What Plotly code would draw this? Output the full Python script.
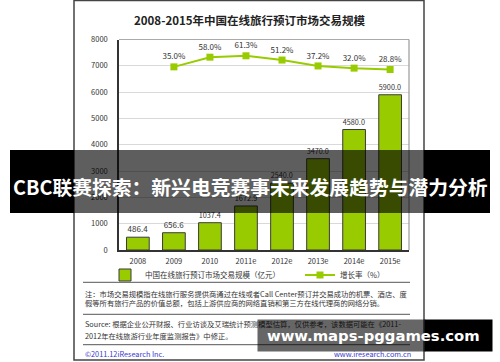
import plotly.graph_objects as go

W, H = 500, 362

years = ["2008", "2009", "2010", "2011e", "2012e", "2013e", "2014e", "2015e"]
market_size = [486.4, 656.6, 1037.4, 1672.9, 2540.0, 3470.0, 4580.0, 5900.0]
growth_rate = [None, 35.0, 58.0, 61.3, 51.2, 37.2, 32.0, 28.8]
y_tick_values = [0, 1000, 2000, 3000, 4000, 5000, 6000, 7000, 8000]

title_text = "2008-2015年中国在线旅行预订市场交易规模"
bar_name = "中国在线旅行预订市场交易规模（亿元）"
line_name = "增长率（%）"
note_lines = [
    "注：市场交易规模指在线旅行服务提供商通过在线或者Call Center预订并交易成功的机票、酒店、度",
    "假等所有旅行产品的价值总额，包括上游供应商的网络直销和第三方在线代理商的网络分销。",
]
source_lines = [
    "Source: 根据企业公开财报、行业访谈及艾瑞统计预测模型估算，仅供参考，该数据可能在《2011-",
    "2012年在线旅游行业年度监测报告》中修正。",
]
footer_left = "©2011.12iResearch Inc."
footer_right = "www.iresearch.com.cn"
banner_text = "CBC联赛探索：新兴电竞赛事未来发展趋势与潜力分析"
watermark_text = "www.maps-pggames.com"

FONT = "Noto Sans CJK SC"
GREEN = "#99cc00"


def px(x):
    return x / W


def py(y):
    return 1 - y / H


fig = go.Figure()
fig.add_bar(
    x=years, y=market_size, name=bar_name,
    marker=dict(color=GREEN, line=dict(color="#3a3a3a", width=1)),
    texttemplate="%{y:.1f}", textposition="outside",
    textfont=dict(size=8, color="#333333", family=FONT),
    cliponaxis=False, width=0.63,
)
fig.add_scatter(
    x=years, y=growth_rate, yaxis="y2", name=line_name,
    mode="lines+markers+text",
    line=dict(color=GREEN, width=2),
    marker=dict(symbol="square", size=7, color=GREEN),
    text=[("%.1f%%" % v) if v is not None else "" for v in growth_rate],
    textposition="top center",
    textfont=dict(size=8, color="#333333", family=FONT),
    cliponaxis=False,
)

shapes = []
# outer frame
shapes.append(dict(type="rect", xref="paper", yref="paper", x0=px(74), x1=px(424), y0=py(360), y1=py(0.5),
                   line=dict(color="#444444", width=1.5), fillcolor="rgba(0,0,0,0)", layer="below"))
# plot border (top & right)
shapes.append(dict(type="line", xref="paper", yref="paper", x0=px(119), x1=px(409), y0=py(39.5), y1=py(39.5),
                   line=dict(color="#aaaaaa", width=1)))
shapes.append(dict(type="line", xref="paper", yref="paper", x0=px(409), x1=px(409), y0=py(39.5), y1=py(250),
                   line=dict(color="#999999", width=1.2)))
# separators
for yy in [282.3, 314.3, 344.7]:
    shapes.append(dict(type="line", xref="paper", yref="paper", x0=px(83), x1=px(410), y0=py(yy), y1=py(yy),
                       line=dict(color="#555555", width=1)))
# banner
shapes.append(dict(type="rect", xref="paper", yref="paper", x0=px(10), x1=px(74), y0=py(213), y1=py(150),
                   fillcolor="black", line=dict(width=0), layer="above"))
shapes.append(dict(type="rect", xref="paper", yref="paper", x0=px(424), x1=px(490), y0=py(213), y1=py(150),
                   fillcolor="black", line=dict(width=0), layer="above"))
shapes.append(dict(type="rect", xref="paper", yref="paper", x0=px(74), x1=px(424), y0=py(213), y1=py(150),
                   fillcolor="rgba(0,0,0,0.63)", line=dict(width=0), layer="above"))

annotations = []
annotations.append(dict(text=title_text, x=px(250), y=py(20), xref="paper", yref="paper", showarrow=False,
                        xanchor="center", yanchor="middle",
                        font=dict(family=FONT, size=11.5, color="#222222", weight="bold")))
for i, t in enumerate(note_lines):
    annotations.append(dict(text=t, x=px(83), y=py(293.5 + i * 9.5), xref="paper", yref="paper", showarrow=False,
                            xanchor="left", yanchor="middle", font=dict(family=FONT, size=7.3, color="#333333")))
for i, t in enumerate(source_lines):
    annotations.append(dict(text=t, x=px(83), y=py(324 + i * 11.5), xref="paper", yref="paper", showarrow=False,
                            xanchor="left", yanchor="middle", font=dict(family=FONT, size=7.3, color="#333333")))
annotations.append(dict(text=footer_left, x=px(83), y=py(353.5), xref="paper", yref="paper", showarrow=False,
                        xanchor="left", yanchor="middle", font=dict(family=FONT, size=7.3, color="#3a3ad0")))
annotations.append(dict(text=footer_right, x=px(413), y=py(353.5), xref="paper", yref="paper", showarrow=False,
                        xanchor="right", yanchor="middle", font=dict(family=FONT, size=7.3, color="#3a3ad0")))
# watermark boxes (as annotations so they cover the source text)
annotations.append(dict(text=" ", x=px(257), y=py(319), xref="paper", yref="paper", showarrow=False,
                        xanchor="left", yanchor="top", width=167, height=31, borderpad=0,
                        bgcolor="rgba(0,0,0,0.6)", font=dict(size=1)))
annotations.append(dict(text=" ", x=px(424), y=py(319), xref="paper", yref="paper", showarrow=False,
                        xanchor="left", yanchor="top", width=67, height=31, borderpad=0,
                        bgcolor="black", font=dict(size=1)))
annotations.append(dict(text=watermark_text, x=px(373), y=py(335), xref="paper", yref="paper", showarrow=False,
                        xanchor="center", yanchor="middle",
                        font=dict(family="DejaVu Sans", size=14.8, color="white", weight="bold")))
annotations.append(dict(text=banner_text, x=px(250), y=py(186), xref="paper", yref="paper", showarrow=False,
                        xanchor="center", yanchor="middle",
                        font=dict(family=FONT, size=19.8, color="white", weight="bold")))

fig.update_layout(
    width=W, height=H, margin=dict(l=0, r=0, t=0, b=0, autoexpand=False),
    paper_bgcolor="white", plot_bgcolor="white",
    font=dict(family=FONT, size=8, color="#333333"),
    xaxis=dict(domain=[px(119), px(409)], showline=True, linecolor="#333333", linewidth=1.5,
               showgrid=False, ticks="", tickfont=dict(size=7.5, color="#333333"), ticklabelstandoff=3,
               automargin=False, fixedrange=True),
    yaxis=dict(domain=[py(250), py(39.5)], range=[0, 8000], tickvals=y_tick_values,
               showgrid=True, gridcolor="#d9d9d9", gridwidth=1, showline=True, linecolor="#333333",
               linewidth=1.5, zeroline=False, ticks="", tickfont=dict(size=7.5, color="#333333"),
               ticklabelstandoff=8, automargin=False, fixedrange=True),
    yaxis2=dict(overlaying="y", range=[-400, 100], visible=False, fixedrange=True),
    showlegend=True,
    legend=dict(orientation="h", x=px(105), y=py(275), xanchor="left", yanchor="middle",
                font=dict(size=7.5, color="#333333", family=FONT), entrywidth=150,
                entrywidthmode="pixels", bgcolor="rgba(0,0,0,0)", itemwidth=30),
    shapes=shapes, annotations=annotations,
)

fig.write_html(
    "out.html",
    config={"displayModeBar": False},
    post_script="document.body.style.margin='0';document.body.style.padding='0';",
)
